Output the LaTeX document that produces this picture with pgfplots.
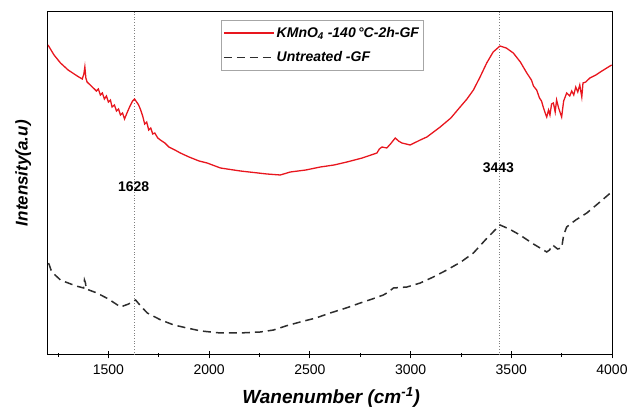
\documentclass[border=0pt]{standalone}
\usepackage{fontspec}
\setmainfont{Liberation Sans}
\usepackage{pgfplots}
\pgfplotsset{compat=1.18}

\definecolor{specred}{RGB}{232,22,30}
\definecolor{specblack}{RGB}{45,45,45}

\begin{document}
\begin{tikzpicture}
\useasboundingbox (0,0) rectangle (633pt,409pt);
\begin{axis}[
    at={(48pt,54pt)}, anchor=south west,
    scale only axis, width=564pt, height=343pt,
    xmin=1200, xmax=4000, ymin=45, ymax=388,
    xtick={1500,2000,2500,3000,3500,4000},
    minor xtick={1250,1750,2250,2750,3250,3750},
    xtick pos=bottom, tick align=center,
    major tick length=7pt, minor tick length=4pt,
    ytick=\empty,
    axis line style={line width=1pt},
    every tick/.style={black, line width=0.8pt},
    /pgf/number format/assume math mode=true,
    /pgf/number format/set thousands separator={},
    xticklabel style={font=\fontsize{14}{16}\selectfont, yshift=-3pt},
    every axis x label/.style={at={(axis description cs:0.502,-0.140)}, anchor=base},
    every axis y label/.style={at={(axis description cs:-0.044,0.530)}, rotate=90, anchor=center},
    xlabel={\fontsize{19}{21}\selectfont\bfseries\itshape Wanenumber (cm\textsuperscript{-1})},
    ylabel={\fontsize{17}{19}\selectfont\bfseries\itshape Intensity(a.u)},
    legend style={at={(0.486,0.977)}, anchor=north, draw=gray!70, line width=0.5pt,
        font=\fontsize{14}{16}\selectfont\bfseries\itshape, row sep=9pt,
        inner xsep=2pt, inner ysep=5pt},
    legend cell align=left,
    legend image code/.code={\draw[#1] (0pt,0pt) -- (50pt,0pt);},
]
\draw[gray, dotted, line width=0.7pt] (axis cs:1628,45) -- (axis cs:1628,388);
\draw[gray, dotted, line width=0.7pt] (axis cs:3443,45) -- (axis cs:3443,388);

\addplot[specred, line width=1.3pt] coordinates {
(1200,355) (1230,345) (1262,337) (1300,330) (1345,324) (1370,321)
(1378,326) (1383,333) (1388,322) (1394,318) (1420,313) (1440,309)
(1450,311) (1460,305) (1470,307) (1480,301) (1490,304) (1500,298)
(1510,300) (1518,293) (1530,295) (1540,289) (1550,291) (1560,285)
(1570,287) (1580,281) (1590,286) (1605,293) (1620,299) (1630,301)
(1640,298) (1650,295) (1660,290) (1670,284) (1680,276) (1690,278)
(1700,270) (1710,272) (1720,266) (1730,267) (1745,262) (1758,260)
(1780,257) (1800,253) (1830,250) (1857,247) (1900,243) (1950,239)
(1990,237) (2056,232) (2155,229) (2287,226) (2353,225) (2403,228)
(2480,230) (2552,233) (2620,235) (2684,238) (2760,242) (2833,247)
(2845,251) (2858,253) (2882,252) (2900,256) (2924,262) (2940,259)
(2957,257) (2998,255) (3048,260) (3081,263) (3147,273) (3200,282)
(3246,293) (3280,301) (3312,310) (3345,323) (3378,337) (3410,348)
(3444,354) (3475,352) (3510,347) (3545,338) (3577,327) (3600,320)
(3610,314) (3626,310) (3640,302) (3650,299) (3660,292) (3670,286)
(3676,283) (3685,290) (3692,285) (3700,296) (3709,297) (3718,288)
(3725,300) (3735,292) (3750,283) (3760,299) (3775,307) (3790,304)
(3800,309) (3810,305) (3820,313) (3830,308) (3840,315) (3850,303)
(3856,317) (3870,318) (3890,322) (3920,325) (3950,329) (3998,335)
};
\addlegendentry{KMnO\textsubscript{4} -140\,°C-2h-GF}

\addplot[specblack, line width=1.5pt, dash pattern=on 8pt off 5pt] coordinates {
(1203,137) (1215,130) (1235,125) (1262,120) (1300,117) (1340,114)
(1377,112) (1381,120) (1386,117) (1390,111) (1443,107) (1500,101)
(1560,93) (1600,96) (1635,100) (1660,94) (1693,87) (1760,80)
(1825,75) (1890,72) (1960,69) (2056,67) (2150,67) (2254,68)
(2320,70) (2380,74) (2452,78) (2530,82) (2601,87) (2680,92)
(2750,97) (2810,101) (2865,105) (2890,108) (2915,112) (2982,113)
(3048,117) (3113,123) (3180,130) (3250,138) (3312,147) (3380,162)
(3444,175) (3490,171) (3543,165) (3610,156) (3676,148) (3690,150)
(3705,155) (3730,151) (3750,152) (3760,165) (3775,173) (3820,180)
(3875,187) (3940,198) (3998,208)
};
\addlegendentry{Untreated -GF}

\node[font=\fontsize{14}{16}\selectfont\bfseries] at (axis cs:1625,213) {1628};
\node[font=\fontsize{14}{16}\selectfont\bfseries] at (axis cs:3436,232) {3443};
\end{axis}
\end{tikzpicture}
\end{document}
